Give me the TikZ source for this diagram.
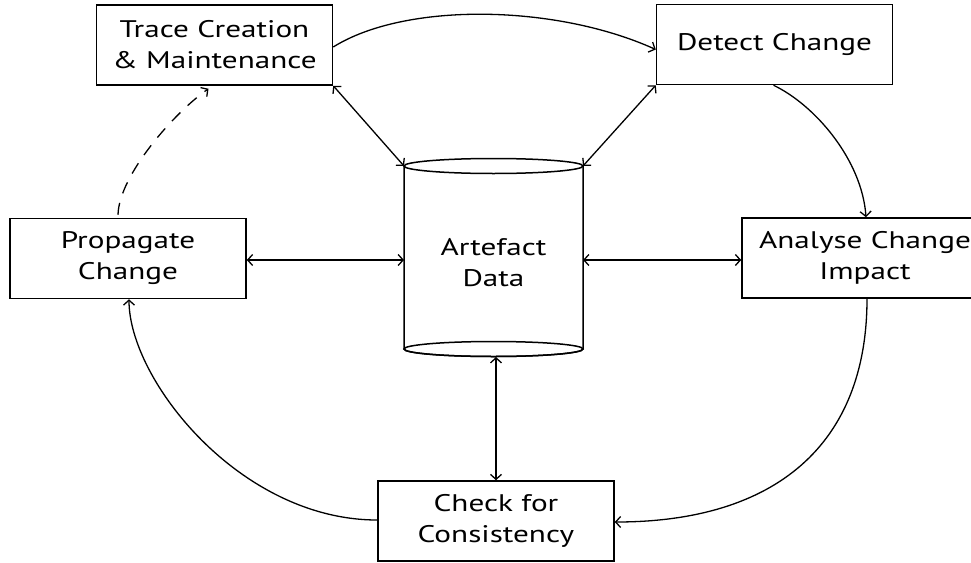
\documentclass[tikz,border=0pt]{standalone}
\usepackage{fontspec}
\setmainfont[FakeStretch=1.3]{PT Sans}
\usetikzlibrary{arrows.meta,calc}

\tikzset{
  box/.style={draw, line width=1.5pt, minimum width=236pt, minimum height=80pt,
              align=center, inner sep=0pt, fill=white},
  lbl/.style={align=center, inner sep=0pt},
  conn/.style={line width=1.3pt, -{Straight Barb[length=5pt,width=11pt,line width=1.3pt]}},
  biconn/.style={line width=1.3pt, {Straight Barb[length=5pt,width=11pt,line width=1.3pt]}-{Straight Barb[length=5pt,width=11pt,line width=1.3pt]}},
  every node/.style={font=\fontsize{24}{31}\selectfont}
}

\begin{document}
\begin{tikzpicture}[x=1pt,y=-1pt]
\useasboundingbox (0,0) rectangle (971,562);
\clip (0,0) rectangle (971,562);

% process steps
\node[box] (trace)  at (214.5,45)  {Trace Creation\\\& Maintenance};
\node[box] (detect) at (774.5,44.5) {Detect Change};
\node[box] (prop)   at (128,258.5) {Propagate\\Change};
\node[box, minimum width=246pt] (ana) at (865,258) {Analyse Change\\Impact};
\node[box] (check)  at (496,521)   {Check for\\Consistency};

% artefact store (cylinder)
\filldraw[fill=white, line width=1.5pt] (404,166) -- (404,349) arc[start angle=180, end angle=360, x radius=89.5, y radius=-7.5] -- (583,166);
\draw[line width=1.5pt] (493.5,166) ellipse[x radius=89.5, y radius=7.5];
\draw[line width=1.5pt] (493.5,349) ellipse[x radius=89.5, y radius=7.5];
\node[lbl] (cyl) at (493.5,263) {Artefact\\Data};
\coordinate (cylTL) at (404,166);
\coordinate (cylTR) at (583,166);
\coordinate (cylL)  at (404,260);
\coordinate (cylR)  at (583,260);
\coordinate (cylB)  at (496,357);

% links with the artefact store
\draw[biconn] (trace.south east) -- (cylTL);
\draw[biconn] (detect.south west) -- (cylTR);
\draw[biconn] (prop.east |- cylL) -- (cylL);
\draw[biconn] (cylR) -- (ana.west |- cylR);
\draw[biconn] (check.north) -- (cylB);

% the change cycle
\draw[conn] ($(trace.east)+(0,2)$) .. controls (405,2) and (555,4) .. ($(detect.west)+(0,5)$);
\draw[conn] ($(detect.south)+(-1,0)$) .. controls (815,105) and (862,160) .. ($(ana.north)+(1,0)$);
\draw[conn] ($(ana.south)+(2,0)$) .. controls (867,445) and (775,522) .. ($(check.east)+(0,1)$);
\draw[conn] ($(check.west)+(0,-1)$) .. controls (240,520) and (129,380) .. ($(prop.south)+(1,0)$);
\draw[conn, dash pattern=on 12pt off 10pt] ($(prop.north)+(-10,-3)$) .. controls (119,175) and (175,112) .. ($(trace.south)+(-6,3)$);
\end{tikzpicture}
\end{document}
